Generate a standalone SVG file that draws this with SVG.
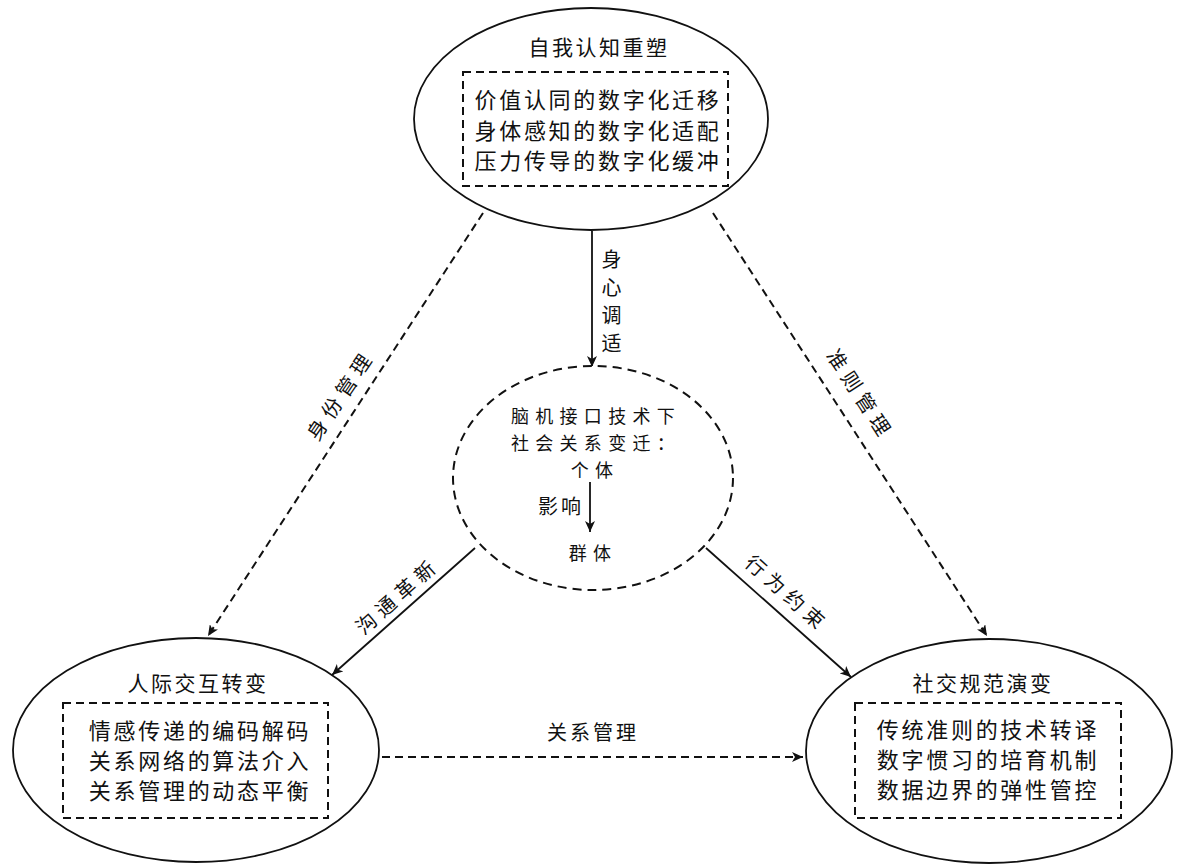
<svg xmlns="http://www.w3.org/2000/svg" width="1182" height="867" viewBox="0 0 1182 867">
<style>
text{font-family:"Noto Sans CJK SC","Liberation Sans",sans-serif;fill:#111;}
.ttl{font-size:21px;letter-spacing:2.5px;text-anchor:middle;}
.box{font-size:22px;letter-spacing:2.7px;text-anchor:middle;}
.lbl{font-size:20px;letter-spacing:3px;text-anchor:middle;}
.rl{font-size:20px;letter-spacing:6px;text-anchor:middle;}
.ctr{font-size:18px;letter-spacing:6.3px;text-anchor:middle;}
.ell{fill:#fff;stroke:#111;stroke-width:1.8;}
.dbox{fill:none;stroke:#111;stroke-width:2;stroke-dasharray:8 5;}
.sol{stroke:#111;stroke-width:1.8;fill:none;}
.dsh{stroke:#111;stroke-width:2;fill:none;stroke-dasharray:8 5;}
</style>
<defs>
<marker id="ah" markerUnits="userSpaceOnUse" markerWidth="12" markerHeight="10" refX="11" refY="5" orient="auto">
<path d="M0,0 L11,5 L0,10 L3,5 z" fill="#111"/>
</marker>
</defs>
<rect width="1182" height="867" fill="#fff"/>

<g id="connectors">
<line class="dsh" x1="483" y1="213" x2="208" y2="636" marker-end="url(#ah)"/>
<line class="dsh" x1="713" y1="213" x2="987" y2="636" marker-end="url(#ah)"/>
<line class="sol" x1="592" y1="231" x2="592" y2="367" marker-end="url(#ah)"/>
<line class="sol" x1="475" y1="548" x2="332" y2="675" marker-end="url(#ah)"/>
<line class="sol" x1="706" y1="548" x2="851" y2="677" marker-end="url(#ah)"/>
<line class="dsh" x1="382" y1="757" x2="803" y2="757" marker-end="url(#ah)"/>
<text class="rl" transform="translate(341,395) rotate(-56)" y="7">身份管理</text>
<text class="rl" transform="translate(860,395) rotate(57)" y="7">准则管理</text>
<text class="rl" transform="translate(398,596) rotate(-41.6)" y="7">沟通革新</text>
<text class="rl" transform="translate(787,594) rotate(41.6)" y="7">行为约束</text>
<text class="lbl" x="593" y="740">关系管理</text>
<text class="lbl" x="613" y="267">身</text>
<text class="lbl" x="613" y="295">心</text>
<text class="lbl" x="613" y="323">调</text>
<text class="lbl" x="613" y="351">适</text>
</g>

<g id="node-top">
<ellipse class="ell" cx="591" cy="119" rx="177" ry="111"/>
<text class="ttl" x="599" y="55">自我认知重塑</text>
<rect class="dbox" x="463" y="72" width="265" height="114"/>
<text class="box" x="598" y="108">价值认同的数字化迁移</text>
<text class="box" x="598" y="139">身体感知的数字化适配</text>
<text class="box" x="598" y="169">压力传导的数字化缓冲</text>
</g>

<g id="node-center">
<ellipse cx="593" cy="478" rx="140" ry="112" fill="#fff" stroke="#111" stroke-width="2" stroke-dasharray="9 6"/>
<text class="ctr" x="596" y="423">脑机接口技术下</text>
<text class="ctr" x="596" y="450">社会关系变迁：</text>
<text class="ctr" x="595" y="477">个体</text>
<line class="sol" x1="590" y1="482" x2="590" y2="532" marker-end="url(#ah)"/>
<text class="lbl" x="561" y="514">影响</text>
<text class="ctr" x="593" y="560">群体</text>
</g>

<g id="node-left">
<ellipse class="ell" cx="196" cy="750" rx="183" ry="112"/>
<text class="ttl" x="198" y="691">人际交互转变</text>
<rect class="dbox" x="63" y="703" width="265" height="115"/>
<text class="box" x="200" y="739">情感传递的编码解码</text>
<text class="box" x="200" y="769">关系网络的算法介入</text>
<text class="box" x="200" y="799">关系管理的动态平衡</text>
</g>

<g id="node-right">
<ellipse class="ell" cx="989" cy="751" rx="183" ry="112"/>
<text class="ttl" x="983" y="691">社交规范演变</text>
<rect class="dbox" x="855" y="703" width="266" height="115"/>
<text class="box" x="988" y="738">传统准则的技术转译</text>
<text class="box" x="988" y="768">数字惯习的培育机制</text>
<text class="box" x="988" y="798">数据边界的弹性管控</text>
</g>
</svg>
